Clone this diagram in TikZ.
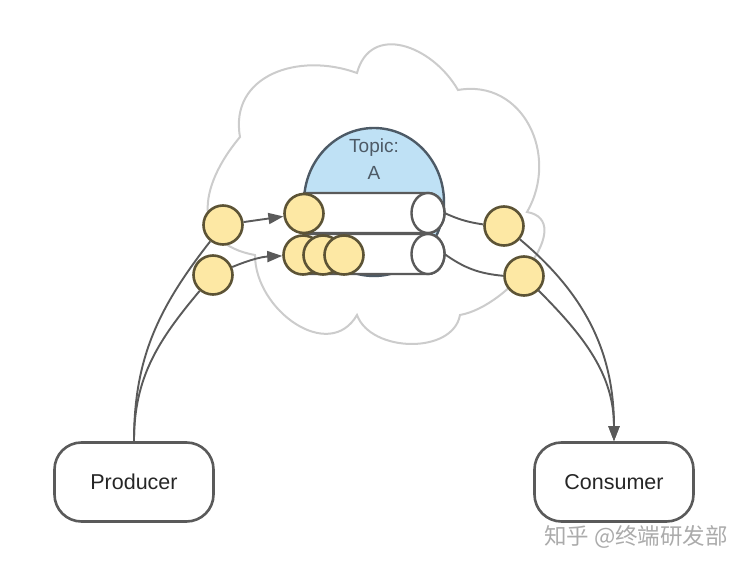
\documentclass[tikz,border=0pt]{standalone}
\usepackage{fontspec}
\setmainfont{Liberation Sans}
\newfontfamily\zhfont{Noto Sans CJK SC}
\usepackage{tikz}
\usetikzlibrary{arrows.meta,shapes.geometric}
\definecolor{kgray}{HTML}{5A5A5A}
\definecolor{kcloud}{HTML}{CCCCCC}
\definecolor{kyellow}{HTML}{FDE8A4}
\definecolor{kolive}{HTML}{5C5335}
\definecolor{kblue}{HTML}{BFE1F5}
\definecolor{kslate}{HTML}{4D5A66}
\definecolor{kmark}{HTML}{ABABAB}

\begin{document}
\begin{tikzpicture}[x=1pt, y=1pt,
    msg/.style={circle, draw=kolive, line width=2.6pt, fill=kyellow, minimum size=39pt, inner sep=0pt},
    client/.style={draw=kgray, line width=2.6pt, rounded corners=27pt, minimum width=159pt, minimum height=79pt, font=\fontsize{21.5}{24}\selectfont, text=black!85},
    link/.style={draw=kgray, line width=1.9pt},
    push/.style={link, -{Triangle[length=15pt, width=11pt]}},
    tube/.style={draw=kgray, line width=2.4pt, fill=white}]
  \useasboundingbox (0,0) rectangle (748,568);
  % cluster
  \draw[kcloud, line width=2pt, fill=white]
    (240,431) to[out=100, in=160, looseness=1.2] (357,495)
    to[out=75, in=120, looseness=1.3] (458,478)
    to[out=10, in=60, looseness=1.2] (527,356)
    to[out=-10, in=10, looseness=1.05] (460,253)
    to[out=-100, in=-70] (357,253)
    to[out=-120, in=-90, looseness=1.2] (255,313)
    to[out=170, in=-130, looseness=1.4] (240,431) -- cycle;
  % topic A with two partitions
  \node[ellipse, draw=kslate, line width=2.4pt, fill=kblue, minimum width=140pt, minimum height=148pt, inner sep=0pt] (topic) at (374,366) {};
  \node[text=kslate, align=center, font=\fontsize{19}{27}\selectfont] (topicname) at (374,409) {Topic:\\A};
  \draw[tube] (304,335) -- (428,335) arc (-90:90:16.5 and 20) -- (304,375) -- cycle;
  \draw[tube] (428,355) ellipse (16.5 and 20);
  \draw[tube] (304,294) -- (428,294) arc (-90:90:16.5 and 20) -- (304,334) -- cycle;
  \draw[tube] (428,314) ellipse (16.5 and 20);
  \coordinate (p0out) at (444.5,355);
  \coordinate (p1out) at (444.5,314);

  \node[client] (producer) at (134,86) {Producer};
  \node[client] (consumer) at (614,86) {Consumer};

  \node[msg] (in0) at (223,343) {};
  \node[msg] (in1) at (213,293) {};
  \node[msg] (m0) at (304,354.5) {};
  \node[msg] (m1a) at (303,313) {};
  \node[msg] (m1b) at (323,313) {};
  \node[msg] (m1c) at (344,313) {};
  \node[msg] (out0) at (504,342) {};
  \node[msg] (out1) at (524,292) {};

  \draw[link] (producer) to[out=90, in=232] (in0);
  \draw[link] (producer) to[out=90, in=230] (in1);
  \draw[push] (in0) -- (m0);
  \draw[push] (in1) to[bend left=10] (m1a);
  \draw[link] (p0out) to[bend right=8] (out0);
  \draw[link] (p1out) to[bend right=15] (out1);
  \draw[push] (out0) to[out=-40, in=90] (consumer);
  \draw[push] (out1) to[out=-45, in=90] (consumer);

  \node[text=kmark, font=\zhfont\fontsize{22.5}{24}\selectfont] (mark) at (636,31) {知乎 @终端研发部};
\end{tikzpicture}
\end{document}
